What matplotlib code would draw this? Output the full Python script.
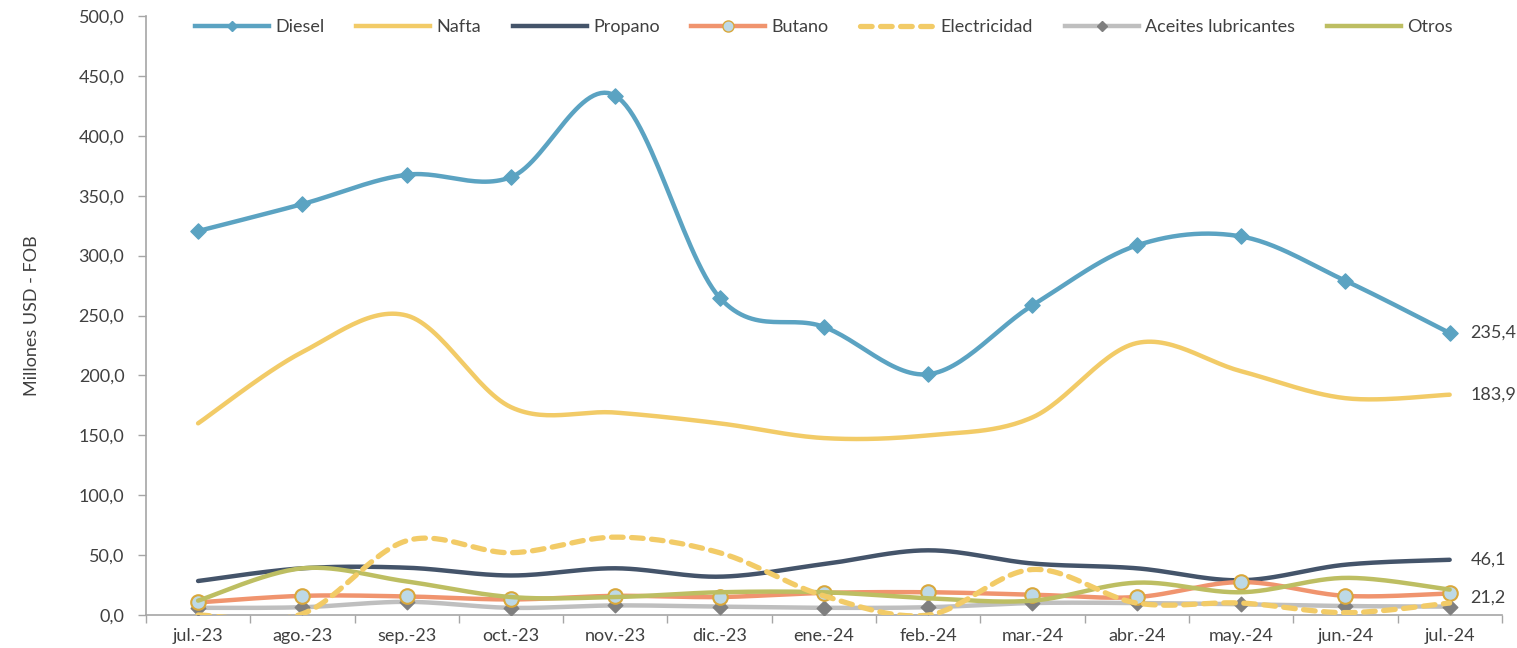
import numpy as np
import matplotlib
matplotlib.use("Agg")
import matplotlib.pyplot as plt
from matplotlib.lines import Line2D

months = ["jul.-23", "ago.-23", "sep.-23", "oct.-23", "nov.-23", "dic.-23", "ene.-24",
          "feb.-24", "mar.-24", "abr.-24", "may.-24", "jun.-24", "jul.-24"]
diesel = [320.5, 343, 367.5, 365.5, 433.5, 265, 240.5, 201, 258.5, 308.5, 316, 279, 235.4]
nafta = [160, 219.5, 250, 173.5, 169, 160, 147.7, 150, 165, 227, 203.5, 181, 183.9]
propano = [28.4, 39, 39.5, 33, 39, 32, 42.5, 54, 43, 39, 29, 42, 46.1]
butano = [10.5, 16, 15.5, 13, 16, 15, 18.5, 19, 17, 15, 27.5, 16, 18]
electricidad = [0, 1, 62, 52, 65, 52, 16, 0, 38, 10, 10, 2, 10]
aceites = [6, 6.5, 11, 6, 8, 7, 6, 6.5, 10, 10, 9, 7.5, 7]
otros = [12, 39, 28, 15, 15, 19, 19, 14, 12, 27, 19, 31, 21.2]
labels_last = ["235,4", "183,9", "46,1", "21,2"]

plt.rcParams['font.family'] = ['Lato', 'DejaVu Sans']

def smooth(y, n=30):
    # Excel-like smoothed line (Catmull-Rom style cubic Bezier)
    x = np.arange(len(y), dtype=float)
    y = np.asarray(y, dtype=float)
    pts = np.column_stack([x, y])
    out = []
    t = 1/6
    for i in range(len(pts) - 1):
        p0 = pts[i - 1] if i > 0 else pts[i]
        p1 = pts[i]
        p2 = pts[i + 1]
        p3 = pts[i + 2] if i + 2 < len(pts) else pts[i + 1]
        c1 = p1 + (p2 - p0) * t
        c2 = p2 - (p3 - p1) * t
        s = np.linspace(0, 1, n)[:, None]
        seg = (1 - s) ** 3 * p1 + 3 * (1 - s) ** 2 * s * c1 + 3 * (1 - s) * s ** 2 * c2 + s ** 3 * p2
        out.append(seg if i == 0 else seg[1:])
    seg = np.vstack(out)
    return seg[:, 0], seg[:, 1]

fig = plt.figure(figsize=(15.17, 6.48), dpi=100)
ax = fig.add_axes([0.0962, 0.0509, 0.8938, 0.9244])

c_diesel = "#5BA3C2"
c_nafta = "#F2CB67"
c_prop = "#44546A"
c_but = "#F0946E"
c_ace = "#BFBFBF"
c_otros = "#BDBE62"
lw = 3.2

x = np.arange(len(months))

def draw(y, color, ls='-', z=2):
    sx, sy = smooth(y)
    ax.plot(sx, sy, color=color, lw=lw, ls=ls, solid_capstyle='round', dash_capstyle='round', zorder=z)

draw(propano, c_prop, z=2)
draw(aceites, c_ace, z=2)
ax.scatter(x, aceites, marker='D', s=55, color="#7F7F7F", zorder=3)
draw(butano, c_but, z=2)
ax.scatter(x, butano, marker='o', s=110, facecolor="#BDD9E6", edgecolor="#D9A83C", linewidth=1.5, zorder=4)
draw(otros, c_otros, z=5)
sx, sy = smooth(electricidad)
ax.plot(sx, sy, color=c_nafta, lw=lw + 0.6, ls=(0, (2.2, 1.6)), dash_capstyle='round', zorder=5)
draw(nafta, c_nafta, z=2)
draw(diesel, c_diesel, z=2)
ax.scatter(x, diesel, marker='D', s=60, color=c_diesel, zorder=3)

# data labels
fs = 13
ax.text(12.2, diesel[-1], labels_last[0], va='center', ha='left', fontsize=fs, color="#404040")
ax.text(12.2, nafta[-1], labels_last[1], va='center', ha='left', fontsize=fs, color="#404040")
ax.text(12.2, propano[-1], labels_last[2], va='center', ha='left', fontsize=fs, color="#404040")
ax.text(12.2, 14.5, labels_last[3], va='center', ha='left', fontsize=fs, color="#404040")

ax.set_xlim(-0.5, 12.5)
ax.set_ylim(0, 500)
ax.set_yticks(np.arange(0, 501, 50))
ax.set_yticklabels([f"{v:.1f}".replace('.', ',') for v in np.arange(0, 501, 50)], fontsize=13, color="#404040")
ax.set_xticks(x)
ax.set_xticklabels(months, fontsize=13, color="#404040")
ax.set_xticks(np.arange(-0.5, 12.6, 1), minor=True)
ax.tick_params(axis='x', which='major', length=0, pad=9)
ax.tick_params(axis='x', which='minor', length=6, color="#A6A6A6", width=1)
ax.tick_params(axis='y', length=6, color="#A6A6A6", width=1, direction='out', pad=9.5)
for s in ['top', 'right']:
    ax.spines[s].set_visible(False)
for s in ['left', 'bottom']:
    ax.spines[s].set_color("#A6A6A6")
    ax.spines[s].set_linewidth(1.2)
ax.set_ylabel("Millones USD - FOB", fontsize=13, color="#404040", labelpad=28)

handles = [
    Line2D([], [], color=c_diesel, lw=lw, marker='D', ms=5),
    Line2D([], [], color=c_nafta, lw=lw),
    Line2D([], [], color=c_prop, lw=lw),
    Line2D([], [], color=c_but, lw=lw, marker='o', ms=8, mfc="#BDD9E6", mec="#D9A83C"),
    Line2D([], [], color=c_nafta, lw=lw + 0.6, ls=(0, (2.2, 1.6)), dash_capstyle='round'),
    Line2D([], [], color=c_ace, lw=lw, marker='D', ms=5, mfc="#7F7F7F", mec="#7F7F7F"),
    Line2D([], [], color=c_otros, lw=lw),
]
names = ["Diesel", "Nafta", "Propano", "Butano", "Electricidad", "Aceites lubricantes", "Otros"]
leg = ax.legend(handles, names, loc='upper center', bbox_to_anchor=(0.5, 1.022), ncol=7,
                frameon=False, fontsize=13, handlelength=4.1, columnspacing=1.75, handletextpad=0.35)
for t in leg.get_texts():
    t.set_color("#404040")

fig.savefig("out.png", dpi=100)
